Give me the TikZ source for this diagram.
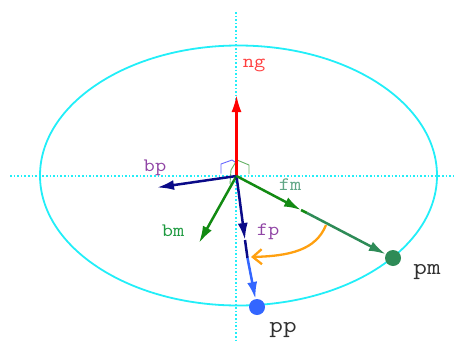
\documentclass[tikz,border=0pt]{standalone}
\usepackage{fontspec}
\newfontfamily\lbf[FakeStretch=1.15]{Latin Modern Mono}
\usetikzlibrary{arrows.meta}
\definecolor{cy}{HTML}{22EEF8}
\definecolor{nvy}{HTML}{0A0A88}
\definecolor{grn}{HTML}{128A12}
\definecolor{sgrn}{HTML}{2E8B57}
\definecolor{blu}{HTML}{3366FF}
\definecolor{org}{HTML}{FFA010}
\definecolor{lblred}{HTML}{FF4040}
\definecolor{lblpur}{HTML}{9045A5}
\definecolor{lblgrn}{HTML}{1E9A40}
\definecolor{lblsg}{HTML}{5FA585}
\definecolor{txt}{HTML}{303030}
\begin{document}
\begin{tikzpicture}[x=1pt,y=-1pt,
  vec/.style={line width=2.5pt,-{Latex[length=17pt,width=10pt]}},
  seg/.style={line width=2.5pt},
  lbl/.style={inner sep=0pt,font=\lbf\fontsize{19}{19}\selectfont},
  biglbl/.style={inner sep=0pt,font=\lbf\fontsize{23}{23}\selectfont,text=txt},
  dot/.style={circle,inner sep=0pt,minimum size=16pt}]
\useasboundingbox (0,0) rectangle (457,343);
% axes
\draw[cy,line width=1.6pt,dotted] (236,12) -- (236,343);
\draw[cy,line width=1.6pt,dotted] (10,176) -- (456,176);
\draw[cy,line width=1.8pt] (238.5,175.5) ellipse [x radius=198.5, y radius=130];
% points
\coordinate (O) at (236.5,176);
\coordinate (ngt) at (236.5,95);
\coordinate (bpt) at (157,187.5);
\coordinate (bmt) at (199,243);
\coordinate (fpt) at (245,240);
\coordinate (fpm) at (247.5,258);
\coordinate (fmt) at (301,210);
\coordinate (fmm) at (307,213);
\node[dot,fill=blu] (pp) at (257,307) {};
\node[dot,fill=sgrn] (pm) at (393,258) {};
% right-angle marks
\draw[blue!60,line width=0.9pt] (236.5,163) -- (232,160) -- (221,164) -- (221,173.5);
\draw[green!50!black!60,line width=0.9pt] (230,184) -- (231,170) -- (237,160) -- (249,165) -- (249,174);
% vectors
\draw[vec,red] (O) -- (ngt);
\draw[vec,nvy] (O) -- (bpt);
\draw[vec,grn] (O) -- (bmt);
\draw[seg,nvy] (fpt) -- (fpm);
\draw[vec,nvy] (O) -- (fpt);
\draw[vec,blu] (fpm) -- (pp);
\draw[seg,grn] (fmt) -- (fmm);
\draw[vec,grn] (O) -- (fmt);
\draw[vec,sgrn] (fmm) -- (pm);
% orange arc
\coordinate (oa) at (326,225);
\coordinate (ob) at (251,257);
\draw[org,line width=2.3pt,-{Straight Barb[length=9pt,width=15pt]}] (oa) .. controls (316,250) and (290,256) .. (ob);
% labels
\node[lbl,text=lblred] (ng) at (254,65) {ng};
\node[lbl,text=lblpur] (bp) at (155,168) {bp};
\node[lbl,text=lblgrn] (bm) at (173,231) {bm};
\node[lbl,text=lblsg] (fm) at (290,185) {fm};
\node[lbl,text=lblpur] (fp) at (268,232) {fp};
\node[biglbl] (pml) at (427,272) {pm};
\node[biglbl] (ppl) at (283,330) {pp};
\end{tikzpicture}
\end{document}
